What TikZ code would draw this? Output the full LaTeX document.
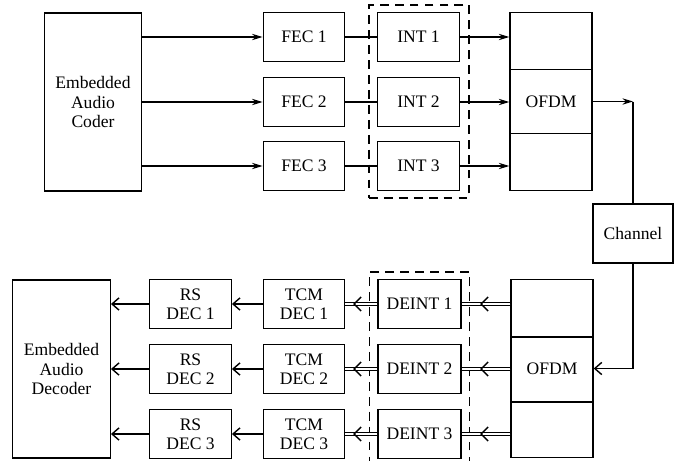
\documentclass[tikz,border=0pt]{standalone}
\usepackage{fontspec}
\setmainfont{Liberation Serif}
\usetikzlibrary{arrows.meta,positioning,decorations.markings}

\begin{document}
\begin{tikzpicture}[
    x=0.02cm, y=-0.02cm,
    line width=0.8pt,
    blk/.style={draw, minimum width=1.63cm, minimum height=0.97cm, align=center, inner sep=0pt, font=\fontsize{10}{11}\selectfont},
    big/.style={draw, minimum width=1.95cm, minimum height=3.56cm, align=center, inner sep=0pt, font=\fontsize{10}{11}\selectfont},
    ofdm/.style={draw, minimum width=1.64cm, minimum height=3.56cm, inner sep=0pt, font=\fontsize{10}{11}\selectfont},
    grp/.style={draw, dashed, dash pattern=on 5pt off 3.5pt, minimum width=2cm, inner sep=0pt},
    fwd/.style={-{Stealth[length=6pt,width=3.6pt]}},
    back/.style={-{Straight Barb[length=4pt,width=7pt]}},
    soft/.style={double, double distance=1.3pt, line width=0.55pt},
    midtip/.style={postaction={decorate, decoration={markings,
        mark=at position #1 with {\arrow{Straight Barb[length=4pt,width=8pt]}}}}}
]
\useasboundingbox (0,0) rectangle (676,460);

\node[big] (coder) at (93,102) {Embedded\\Audio\\Coder};

\node[blk] (fec1) at (304,37) {FEC 1};
\node[blk] (fec2) at (304,102) {FEC 2};
\node[blk] (fec3) at (304,166) {FEC 3};

\node[blk] (int1) at (418.5,37) {INT 1};
\node[blk] (int2) at (418.5,102) {INT 2};
\node[blk] (int3) at (418.5,166) {INT 3};

\node[grp, minimum height=3.86cm] (ilvT) at (419,101.5) {};

\node[ofdm] (ofdmT) at (551,101.5) {OFDM};
\draw (ofdmT.west |- 0,69.5) -- (ofdmT.east |- 0,69.5);
\draw (ofdmT.west |- 0,133.5) -- (ofdmT.east |- 0,133.5);

\node[blk, minimum width=1.6cm, minimum height=1.18cm] (chan) at (633,233.5) {Channel};

\node[big] (decoder) at (61.5,369) {Embedded\\Audio\\Decoder};

\node[blk] (rs1) at (190.5,304) {RS\\DEC 1};
\node[blk] (rs2) at (190.5,369) {RS\\DEC 2};
\node[blk] (rs3) at (190.5,434) {RS\\DEC 3};

\node[blk] (tcm1) at (304,304) {TCM\\DEC 1};
\node[blk] (tcm2) at (304,369) {TCM\\DEC 2};
\node[blk] (tcm3) at (304,434) {TCM\\DEC 3};

\node[blk, minimum width=1.66cm] (deint1) at (419.5,304) {DEINT 1};
\node[blk, minimum width=1.66cm] (deint2) at (419.5,369) {DEINT 2};
\node[blk, minimum width=1.66cm] (deint3) at (419.5,434) {DEINT 3};

\node[grp, minimum height=3.96cm] (ilvB) at (419.5,371) {};

\node[ofdm] (ofdmB) at (552,368.5) {OFDM};
\draw (ofdmB.west |- 0,337) -- (ofdmB.east |- 0,337);
\draw (ofdmB.west |- 0,402) -- (ofdmB.east |- 0,402);

\coordinate (upC) at (chan.north |- ofdmT.east);
\coordinate (dnC) at (chan.south |- ofdmB.east);

\draw[fwd] (coder.east |- fec1) -- (fec1);
\draw[fwd] (coder.east |- fec2) -- (fec2);
\draw[fwd] (coder.east |- fec3) -- (fec3);

\draw (fec1) -- (int1);
\draw (fec2) -- (int2);
\draw (fec3) -- (int3);

\draw[fwd] (int1) -- (ofdmT.west |- int1);
\draw[fwd] (int2) -- (ofdmT.west |- int2);
\draw[fwd] (int3) -- (ofdmT.west |- int3);

\draw[fwd] (ofdmT.east) -- (upC);
\draw (upC) -- (chan.north);
\draw (chan.south) -- (dnC);
\draw[back] (dnC) -- (ofdmB.east);

\draw[soft] (ofdmB.west |- deint1) -- (deint1);
\draw[soft] (ofdmB.west |- deint2) -- (deint2);
\draw[soft] (ofdmB.west |- deint3) -- (deint3);
\path[midtip=0.62] (ofdmB.west |- deint1) -- (deint1);
\path[midtip=0.62] (ofdmB.west |- deint2) -- (deint2);
\path[midtip=0.62] (ofdmB.west |- deint3) -- (deint3);

\draw[soft] (deint1) -- (tcm1);
\draw[soft] (deint2) -- (tcm2);
\draw[soft] (deint3) -- (tcm3);
\path[midtip=0.76] (deint1) -- (tcm1);
\path[midtip=0.76] (deint2) -- (tcm2);
\path[midtip=0.76] (deint3) -- (tcm3);

\draw[back] (tcm1) -- (rs1);
\draw[back] (tcm2) -- (rs2);
\draw[back] (tcm3) -- (rs3);

\draw[back] (rs1) -- (decoder.east |- rs1);
\draw[back] (rs2) -- (decoder.east |- rs2);
\draw[back] (rs3) -- (decoder.east |- rs3);

\end{tikzpicture}
\end{document}
